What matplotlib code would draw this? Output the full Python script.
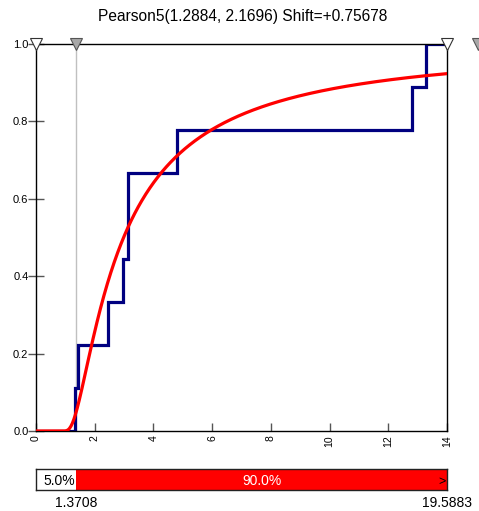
import math
import numpy as np
import matplotlib
matplotlib.use("Agg")
import matplotlib.pyplot as plt

plt.rcParams['font.family'] = ['Liberation Sans', 'DejaVu Sans']

# fitted distribution
alpha = 1.2884
beta = 2.1696
shift = 0.75678

# sample values (empirical CDF)
samples = [1.34, 1.44, 2.46, 2.97, 3.14, 3.14, 4.79, 12.80, 13.28]

# delimiters and the probability split shown in the bar
left_delim = 1.3708
right_delim = 19.5883
left_pct = 5.0
mid_pct = 90.0

x_min, x_max = 0, 14
x_ticks = [0, 2, 4, 6, 8, 10, 12, 14]
y_ticks = [0.0, 0.2, 0.4, 0.6, 0.8, 1.0]


def upper_gamma_reg(a, z):
    # regularized upper incomplete gamma Q(a, z)
    if z <= 0:
        return 1.0
    lg = math.lgamma(a)
    if z < a + 1:
        term = 1.0 / a
        total = term
        ap = a
        for _ in range(500):
            ap += 1
            term *= z / ap
            total += term
            if abs(term) < abs(total) * 1e-14:
                break
        p = total * math.exp(-z + a * math.log(z) - lg)
        return 1.0 - p
    b = z + 1 - a
    c = 1.0 / 1e-300
    d = 1.0 / b
    h = d
    for i in range(1, 500):
        an = -i * (i - a)
        b += 2
        d = an * d + b
        if abs(d) < 1e-300:
            d = 1e-300
        c = b + an / c
        if abs(c) < 1e-300:
            c = 1e-300
        d = 1.0 / d
        delta = d * c
        h *= delta
        if abs(delta - 1) < 1e-14:
            break
    return math.exp(-z + a * math.log(z) - lg) * h


def pearson5_cdf(x):
    t = x - shift
    if t <= 0:
        return 0.0
    return upper_gamma_reg(alpha, beta / t)


fig = plt.figure(figsize=(4.79, 5.11), dpi=100)
ax = fig.add_axes([0.0752, 0.1566, 0.9332 - 0.0752, 0.9139 - 0.1566])

# delimiter line
ax.plot([left_delim, left_delim], [0, 1], color='#c0c0c0', lw=1, zorder=1)

# empirical step CDF
n = len(samples)
xs = sorted(samples)
step_x = [x_min]
step_y = [0.0]
for i, v in enumerate(xs):
    step_x += [v, v]
    step_y += [i / n, (i + 1) / n]
step_x.append(x_max)
step_y.append(1.0)
ax.plot(step_x, step_y, color='#000080', lw=2.3, solid_joinstyle='miter', zorder=2)

# fitted CDF
cx = np.linspace(x_min, x_max, 600)
cy = [pearson5_cdf(v) for v in cx]
ax.plot(cx, cy, color='#ff0000', lw=2.3, zorder=3)

# delimiter markers on top edge
ax.plot([x_min, x_max], [1, 1], linestyle='none', marker='v', markersize=8.5,
        markerfacecolor='white', markeredgecolor='#333333', markeredgewidth=0.8,
        clip_on=False, zorder=5)
ax.plot([left_delim, 15.07], [1, 1], linestyle='none', marker='v', markersize=8.5,
        markerfacecolor='#a8a8a8', markeredgecolor='#555555', markeredgewidth=0.8,
        clip_on=False, zorder=5)

ax.set_xlim(x_min, x_max)
ax.set_ylim(0, 1)
ax.set_xticks(x_ticks)
ax.set_xticklabels([str(t) for t in x_ticks], rotation=90, fontsize=7.5)
ax.set_yticks(y_ticks)
ax.set_yticklabels(['%.1f' % t for t in y_ticks], fontsize=8)
ax.tick_params(axis='x', direction='in', length=6, width=1, color='#555555', pad=3)
ax.tick_params(axis='y', direction='inout', length=11, width=1, color='#555555', pad=0)
for s in ax.spines.values():
    s.set_linewidth(1)
    s.set_color('black')

fig.text(0.5075, 0.968, 'Pearson5(%.4f, %.4f) Shift=+%.5f' % (alpha, beta, shift),
         ha='center', va='center', fontsize=11.2)

# probability bar
bx = fig.add_axes([0.0752, 0.0411, 0.9332 - 0.0752, 0.0411])
bx.set_xlim(x_min, x_max)
bx.set_ylim(0, 1)
bx.axvspan(left_delim, x_max, color='#ff0000', lw=0)
bx.set_xticks([])
bx.set_yticks([])
for s in bx.spines.values():
    s.set_linewidth(1)
    s.set_color('#222222')
bx.text(left_delim - 0.03, 0.45, '%.1f%%' % left_pct, ha='right', va='center', fontsize=10)
bx.text((left_delim + x_max) / 2, 0.45, '%.1f%%' % mid_pct, ha='center', va='center',
        fontsize=10, color='white')
bx.text(x_max - 0.05, 0.4, '>', ha='right', va='center', fontsize=9)
bx.text(left_delim, -0.6, '%.4f' % left_delim, ha='center', va='center', fontsize=10)
bx.text(x_max, -0.6, '%.4f' % right_delim, ha='center', va='center', fontsize=10)

fig.savefig('out.png', dpi=100)
